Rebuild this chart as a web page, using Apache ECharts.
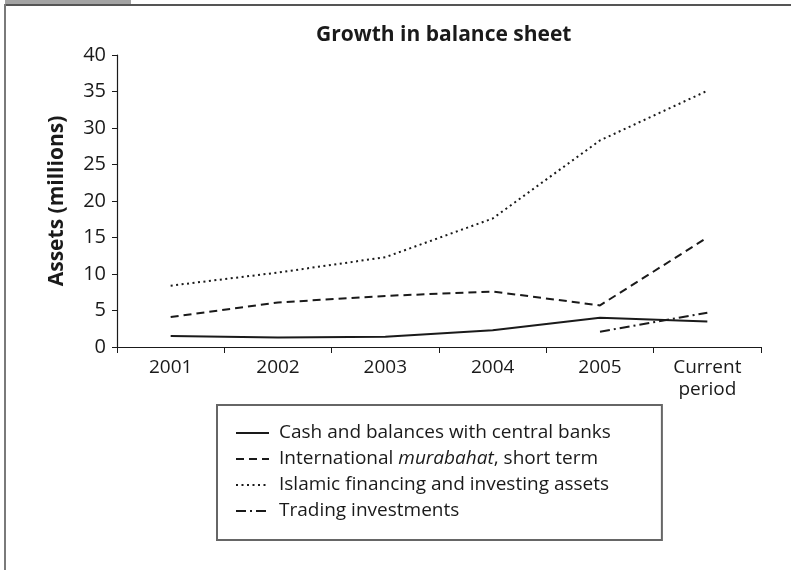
<!DOCTYPE html>
<html>
<head>
<meta charset="utf-8">
<script src="https://cdn.jsdelivr.net/npm/echarts@6/dist/echarts.min.js"></script>
<style>
  html, body { margin: 0; padding: 0; background: #fff; }
  #chart { width: 791px; height: 570px; }
</style>
</head>
<body>
<div id="chart"></div>
<script>
// categories and values (millions)
var categories = ["2001", "2002", "2003", "2004", "2005", "Current\nperiod"];
var cash = [1.5, 1.3, 1.4, 2.3, 4.0, 3.5];
var murabahat = [4.1, 6.1, 7.0, 7.6, 5.7, 15.0];
var islamic = [8.4, 10.2, 12.3, 17.6, 28.3, 35.1];
var trading = [null, null, null, null, 2.1, 4.7];
var yTicks = { min: 0, max: 40, interval: 5 };

var fontName = "Open Sans";

var myChart = echarts.init(document.getElementById("chart"));

function lineSeries(name, data, type, width) {
  return {
    name: name,
    type: "line",
    data: data,
    symbol: "none",
    connectNulls: false,
    itemStyle: { color: "#1a1a1a" },
    lineStyle: { color: "#1a1a1a", width: width, type: type },
    emphasis: { disabled: true }
  };
}

var option = {
  animation: false,
  title: {
    text: "Growth in balance sheet",
    left: 311,
    top: 20,
    textStyle: { fontFamily: fontName, fontWeight: "bold", fontSize: 21, color: "#1a1a1a" }
  },
  grid: { left: 117, right: 30, top: 55, bottom: 223 },
  xAxis: {
    type: "category",
    data: categories,
    boundaryGap: true,
    axisLine: { lineStyle: { color: "#1a1a1a", width: 1.2 } },
    axisTick: { show: true, length: 6, lineStyle: { color: "#1a1a1a" } },
    axisLabel: { fontFamily: fontName, fontSize: 19, color: "#1a1a1a", margin: 10, lineHeight: 22 }
  },
  yAxis: {
    type: "value",
    min: yTicks.min,
    max: yTicks.max,
    interval: yTicks.interval,
    name: "Assets (millions)",
    nameLocation: "middle",
    nameGap: 49,
    nameTextStyle: { fontFamily: fontName, fontWeight: "bold", fontSize: 21, color: "#1a1a1a" },
    splitLine: { show: false },
    axisLine: { show: true, lineStyle: { color: "#1a1a1a", width: 1.2 } },
    axisTick: { show: true, length: 5, lineStyle: { color: "#1a1a1a" } },
    axisLabel: { fontFamily: fontName, fontSize: 20, color: "#1a1a1a", margin: 11 }
  },
  legend: {
    orient: "vertical",
    left: 217,
    top: 405,
    padding: [18, 51, 19, 18],
    itemGap: 6,
    itemWidth: 33,
    itemHeight: 14,
    borderColor: "#666",
    borderWidth: 2,
    borderRadius: 0,
    selectedMode: false,
    itemStyle: { opacity: 0 },
    formatter: function (name) {
      if (name === "International murabahat, short term") {
        return "International {i|murabahat}, short term";
      }
      return name;
    },
    textStyle: {
      fontFamily: fontName,
      fontSize: 19,
      color: "#1a1a1a",
      lineHeight: 20,
      padding: [0, 0, 0, 5],
      rich: { i: { fontStyle: "italic", fontFamily: fontName, fontSize: 19, color: "#1a1a1a" } }
    },
    data: [
      "Cash and balances with central banks",
      "International murabahat, short term",
      "Islamic financing and investing assets",
      "Trading investments"
    ]
  },
  graphic: [
    { type: "rect", shape: { x: 5, y: 0, width: 126, height: 4 }, style: { fill: "#a3a3a3" }, silent: true },
    { type: "line", shape: { x1: 5, y1: 5, x2: 791, y2: 5 }, style: { stroke: "#555", lineWidth: 2 }, silent: true },
    { type: "line", shape: { x1: 5, y1: 4, x2: 5, y2: 570 }, style: { stroke: "#7a7a7a", lineWidth: 2 }, silent: true }
  ],
  series: [
    lineSeries("Cash and balances with central banks", cash, "solid", 2),
    lineSeries("International murabahat, short term", murabahat, [8, 5], 2),
    lineSeries("Islamic financing and investing assets", islamic, [2, 3.5], 2),
    lineSeries("Trading investments", trading, [10, 4, 2, 4], 2)
  ]
};

window.onresize = myChart.resize;
myChart.setOption(option);
</script>
</body>
</html>
